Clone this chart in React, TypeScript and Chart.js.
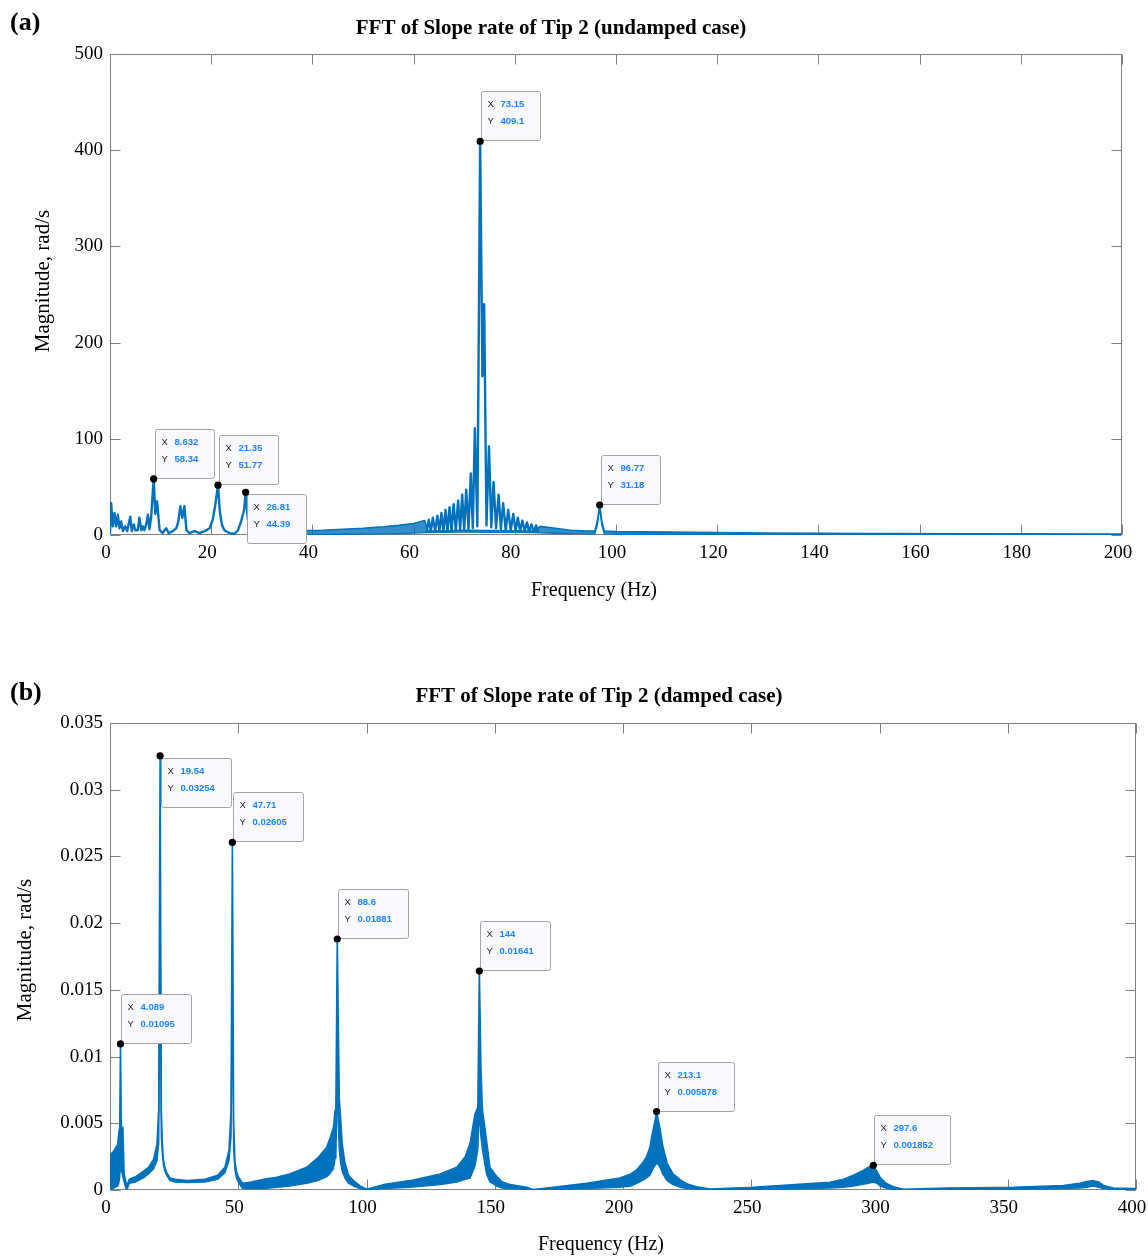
import React, { useEffect, useRef } from "react";
import { Chart, registerables } from "chart.js";

Chart.register(...registerables);

const BLUE = "#0072BD";
const FRAME = "#7f7f7f";
const SERIF = '"Liberation Serif", "Times New Roman", Times, serif';
const SANS = '"Liberation Sans", Arial, Helvetica, sans-serif';

// ---------------- Panel (a): undamped ----------------
const aXTicks = [0, 20, 40, 60, 80, 100, 120, 140, 160, 180, 200];
const aYTicks = [0, 100, 200, 300, 400, 500];

// 0 - 29 Hz, single line
const aLowFreq = [0, 0.23, 0.56, 0.89, 1.22, 1.55, 1.88, 2.21, 2.54, 3.0, 3.4, 4.0, 4.3, 4.7, 5.0, 5.5, 5.8, 6.2, 6.5, 6.8, 7.15, 7.5, 7.8, 8.14, 8.632, 8.95, 9.3, 9.8, 10.4, 11.1, 11.6, 12.4, 13.1, 13.5, 13.9, 14.3, 14.7, 15.1, 15.7, 16.7, 17.7, 18.7, 19.7, 20.3, 20.8, 21.35, 21.7, 22.1, 22.6, 23.6, 24.6, 25.3, 25.9, 26.5, 26.81, 27.2, 27.8, 29.2];
const aLowMag = [2, 33, 9, 23, 9, 21, 7, 14, 4, 9, 4, 19, 4, 11, 5, 5, 18, 5, 9, 5, 11, 21, 6, 19, 58.34, 22, 35, 5, 2, 7, 2, 4, 7, 14, 30, 18, 30, 5, 2, 4, 2, 4, 7, 16, 31, 51.77, 25, 11, 5, 2, 1, 5, 14, 26, 44.39, 18, 4, 1];

// main resonance, ripple spikes
const aPeakFreq = [62.6, 63.0, 63.4, 63.8, 64.25, 64.7, 65.1, 65.5, 65.9, 66.3, 66.7, 67.1, 67.5, 67.9, 68.35, 68.8, 69.2, 69.6, 70.0, 70.4, 70.85, 71.3, 71.7, 72.1, 72.6, 73.15, 73.6, 73.95, 74.4, 74.9, 75.35, 75.8, 76.3, 76.8, 77.25, 77.7, 78.2, 78.7, 79.2, 79.7, 80.15, 80.6, 81.05, 81.5, 81.95, 82.4, 82.85, 83.3, 83.75, 84.2, 84.6];
const aPeakMag = [4, 16, 4, 18, 4, 20, 4, 23, 4, 26, 4, 29, 4, 32, 5, 36, 5, 42, 5, 47, 6, 64, 7, 111, 9, 409.1, 165, 240, 10, 92, 8, 55, 7, 42, 6, 33, 5, 26, 5, 22, 4, 18, 4, 15, 4, 13, 3.5, 11, 3.5, 10, 3];

// dense ripple band (envelopes)
const aBandFreq = [29.2, 33, 38, 42, 46, 50, 54, 57, 60, 62.2, 62.8, 70, 84, 85, 88, 91, 94, 95.8, 96.3, 96.77, 97.2, 97.7, 100, 110, 120, 130, 150, 170, 200];
const aBandUpper = [1.5, 3.5, 4.5, 5, 6, 7, 8.5, 10, 12, 15, 4, 5, 4, 9, 7, 5, 4, 4, 14, 31.18, 14, 4, 3.5, 3, 2.5, 2, 1.5, 1.2, 1];
const aBandLower = [0.5, 0.5, 0.6, 0.7, 0.8, 1, 1.2, 1.5, 2, 2.5, 2.5, 3, 2.5, 2.2, 1.8, 1.5, 1.2, 1.2, 10, 28, 10, 1.2, 1, 0.8, 0.6, 0.5, 0.4, 0.3, 0.3];

const aTipX = [8.632, 21.35, 26.81, 73.15, 96.77];
const aTipY = [58.34, 51.77, 44.39, 409.1, 31.18];
const aTipBelow = [false, false, true, false, false];

// ---------------- Panel (b): damped ----------------
const bXTicks = [0, 50, 100, 150, 200, 250, 300, 350, 400];
const bYTicks = [0, 0.005, 0.01, 0.015, 0.02, 0.025, 0.03, 0.035];

const bBandFreq = [
  0, 0.3, 1, 2, 3, 3.5, 3.8, 4.089, 4.4, 5,
  5.5, 6.2, 6.8, 7.5, 10, 13, 15, 17, 18.3, 19,
  19.54, 20, 20.4, 20.8, 21.4, 22.1, 23.4, 25.3, 30, 37,
  42, 44.8, 46.4, 47.2, 47.71, 48.2, 48.7, 49.3, 50, 51.3,
  52, 55, 60, 65, 70, 76.7, 81, 84.5, 86, 87.1,
  87.8, 88.1, 88.6, 89, 89.4, 89.8, 90.5, 91.6, 93, 94.9,
  97.5, 100.1, 103, 106.6, 117, 128.7, 135.2, 138.5, 140.4, 142.3,
  143.4, 144, 144.6, 145.2, 146.8, 148.1, 150.8, 153, 156, 162.4,
  165, 172.8, 185.8, 198.8, 203, 205.3, 207.5, 209.2, 210.5, 211.2,
  212.3, 213.1, 213.8, 214.4, 215.5, 217.2, 219.5, 222.4, 225, 228.7,
  233.9, 250.8, 261.2, 280.7, 286, 289.8, 293, 295.6, 297.6, 299,
  300.2, 302.5, 305.4, 309.3, 326.2, 352.2, 371.7, 378, 380.8, 383.4,
  385.5, 387.3, 391.2, 400,
];
const bBandUpper = [
  0.0005, 0.0027, 0.0028, 0.0031, 0.0034, 0.0044, 0.0047, 0.01095, 0.0047, 0.0047,
  0.0012, 0.0006, 0.0004, 0.0008, 0.001, 0.0014, 0.0017, 0.0023, 0.0034, 0.006,
  0.03254, 0.006, 0.0035, 0.0023, 0.0017, 0.0013, 0.0009, 0.0008, 0.0007, 0.0008,
  0.0011, 0.0017, 0.003, 0.006, 0.02605, 0.005, 0.0022, 0.0014, 0.001, 0.0006,
  0.0005, 0.0006, 0.0008, 0.00096, 0.0012, 0.0017, 0.0024, 0.0032, 0.004, 0.0047,
  0.006, 0.007, 0.01881, 0.0125, 0.0068, 0.0057, 0.0035, 0.002, 0.0011, 0.0007,
  0.0003, 0.00005, 0.0002, 0.0004, 0.0007, 0.0012, 0.0017, 0.0025, 0.0035, 0.0057,
  0.0062, 0.01641, 0.0092, 0.006, 0.0037, 0.0017, 0.001, 0.0006, 0.0004, 0.0002,
  0.00003, 0.0002, 0.0005, 0.0009, 0.0012, 0.0015, 0.002, 0.0025, 0.0032, 0.004,
  0.005, 0.005878, 0.0052, 0.0046, 0.0033, 0.002, 0.0012, 0.00075, 0.00045, 0.00025,
  0.00008, 0.0002, 0.00034, 0.00058, 0.0008, 0.0011, 0.0014, 0.0017, 0.001852, 0.0014,
  0.00096, 0.0005, 0.00024, 0.00006, 0.00014, 0.0002, 0.00034, 0.0005, 0.00064, 0.0007,
  0.0006, 0.00034, 0.00014, 0.0001,
];
const bBandLower = [
  0, 0, 0.0001, 0.0002, 0.0003, 0.0006, 0.001, 0.002, 0.0015, 0.001,
  0.0006, 0.0001, 0.0001, 0.0005, 0.0006, 0.0009, 0.0012, 0.0016, 0.0022, 0.0035,
  0.02, 0.004, 0.0028, 0.0019, 0.0014, 0.0011, 0.0007, 0.0006, 0.00055, 0.0006,
  0.0008, 0.0013, 0.0022, 0.004, 0.015, 0.003, 0.0015, 0.0009, 0.0006, 0.0002,
  0.0001, 0.0001, 0.0001, 0.0002, 0.0003, 0.0005, 0.0007, 0.001, 0.0013, 0.0016,
  0.0024, 0.003, 0.008, 0.005, 0.003, 0.0022, 0.0014, 0.0009, 0.0005, 0.0003,
  0.0001, 0, 0.00003, 0.0001, 0.0002, 0.0004, 0.0006, 0.0008, 0.0009, 0.0018,
  0.003, 0.006, 0.004, 0.003, 0.0012, 0.0006, 0.0003, 0.00015, 0.0001, 0.00003,
  0, 0.00003, 0.0001, 0.0002, 0.0003, 0.0005, 0.0007, 0.0009, 0.0011, 0.0014,
  0.0018, 0.002, 0.0019, 0.0017, 0.0012, 0.0007, 0.0004, 0.0002, 0.0001, 0.00005,
  0, 0.00003, 0.00006, 0.00015, 0.0002, 0.0003, 0.0004, 0.0005, 0.0006, 0.0005,
  0.0003, 0.00015, 0.00005, 0, 0.00002, 0.00004, 0.0001, 0.00015, 0.0002, 0.0003,
  0.0002, 0.0001, 0.00003, 0.00002,
];

const bTipX = [4.089, 19.54, 47.71, 88.6, 144, 213.1, 297.6];
const bTipY = [0.01095, 0.03254, 0.02605, 0.01881, 0.01641, 0.005878, 0.001852];
const bTipBelow = [false, true, false, false, false, false, false];

// ---------------- helpers ----------------
const pts = (xs: number[], ys: number[]) => xs.map((x, i) => ({ x, y: ys[i] }));

type PanelCfg = {
  width: number;
  height: number;
  padTop: number;
  padRight: number;
  yAxisWidth: number;
  xAxisHeight: number;
  xMax: number;
  yMax: number;
  xTicks: number[];
  yTicks: number[];
  datasets: any[];
  title: string;
  titleX: number;
  titleY: number;
  label: string;
  labelBaseline: number;
  xTitleX: number;
  xTitleY: number;
  yTitleX: number;
  yTitleY: number;
  tipX: number[];
  tipY: number[];
  tipBelow: boolean[];
  fmtY: (v: number) => string;
};

function drawFrame(chart: any, p: PanelCfg) {
  const { ctx, chartArea, scales } = chart;
  const L = Math.round(chartArea.left) + 0.5;
  const R = Math.round(chartArea.right) - 0.5;
  const T = Math.round(chartArea.top) + 0.5;
  const B = Math.round(chartArea.bottom) - 0.5;
  const len = 10;
  ctx.save();
  ctx.strokeStyle = FRAME;
  ctx.lineWidth = 1;
  ctx.beginPath();
  ctx.rect(L, T, R - L, B - T);
  p.xTicks.forEach((v) => {
    const x = Math.round(scales.x.getPixelForValue(v)) + 0.5;
    ctx.moveTo(x, B);
    ctx.lineTo(x, B - len);
    ctx.moveTo(x, T);
    ctx.lineTo(x, T + len);
  });
  p.yTicks.forEach((v) => {
    const y = Math.round(scales.y.getPixelForValue(v)) + 0.5;
    ctx.moveTo(L, y);
    ctx.lineTo(L + len, y);
    ctx.moveTo(R, y);
    ctx.lineTo(R - len, y);
  });
  ctx.stroke();
  ctx.restore();
}

function drawTips(chart: any, p: PanelCfg) {
  const { ctx, scales } = chart;
  ctx.save();
  p.tipX.forEach((xv, i) => {
    const yv = p.tipY[i];
    const px = scales.x.getPixelForValue(xv);
    const py = scales.y.getPixelForValue(yv);
    const xs = String(xv);
    const ys = String(yv);
    ctx.font = `bold 9.5px ${SANS}`;
    const tw = Math.max(ctx.measureText(xs).width, ctx.measureText(ys).width);
    const w = Math.round(19 + tw * 1.08 + 14);
    const h = 49;
    const left = Math.round(px) + 1.5;
    const top = p.tipBelow[i] ? Math.round(py) + 2.5 : Math.round(py) - h - 0.5;
    const r = 2;
    ctx.beginPath();
    ctx.moveTo(left + r, top);
    ctx.lineTo(left + w - r, top);
    ctx.arcTo(left + w, top, left + w, top + r, r);
    ctx.lineTo(left + w, top + h - r);
    ctx.arcTo(left + w, top + h, left + w - r, top + h, r);
    ctx.lineTo(left + r, top + h);
    ctx.arcTo(left, top + h, left, top + h - r, r);
    ctx.lineTo(left, top + r);
    ctx.arcTo(left, top, left + r, top, r);
    ctx.closePath();
    ctx.fillStyle = "#f8f8fd";
    ctx.fill();
    ctx.strokeStyle = "#a3a3a3";
    ctx.lineWidth = 1;
    ctx.stroke();
    ctx.textBaseline = "middle";
    ctx.textAlign = "left";
    ctx.font = `9.5px ${SANS}`;
    ctx.fillStyle = "#262626";
    ctx.fillText("X", left + 6, top + 12.5);
    ctx.fillText("Y", left + 6, top + 30);
    ctx.font = `bold 9.5px ${SANS}`;
    ctx.fillStyle = "#1a85ff";
    ctx.fillText(xs, left + 19, top + 12.5);
    ctx.fillText(ys, left + 19, top + 30);
  });
  ctx.restore();
}

function drawTexts(chart: any, p: PanelCfg) {
  const { ctx } = chart;
  ctx.save();
  ctx.fillStyle = "#000";
  ctx.textAlign = "left";
  ctx.textBaseline = "alphabetic";
  ctx.font = `bold 26px ${SERIF}`;
  ctx.fillText(p.label, 10, p.labelBaseline);

  ctx.textAlign = "center";
  ctx.textBaseline = "middle";
  ctx.font = `bold 21px ${SERIF}`;
  ctx.fillText(p.title, p.titleX, p.titleY);

  ctx.font = `20px ${SERIF}`;
  ctx.fillText("Frequency (Hz)", p.xTitleX, p.xTitleY);

  ctx.translate(p.yTitleX, p.yTitleY);
  ctx.rotate(-Math.PI / 2);
  ctx.font = `21px ${SERIF}`;
  ctx.fillText("Magnitude, rad/s", 0, 0);
  ctx.restore();
}

function buildConfig(p: PanelCfg): any {
  const decor = {
    id: "decor",
    beforeDatasetsDraw(chart: any) {
      drawFrame(chart, p);
    },
    afterDatasetDraw(chart: any, args: any) {
      if (args.index === 1) drawTips(chart, p);
    },
    afterDraw(chart: any) {
      drawTexts(chart, p);
    },
  };
  return {
    type: "line",
    data: { datasets: p.datasets },
    plugins: [decor],
    options: {
      animation: false,
      responsive: false,
      maintainAspectRatio: false,
      events: [],
      layout: { padding: { top: p.padTop, right: p.padRight, left: 0, bottom: 0 } },
      plugins: {
        legend: { display: false },
        tooltip: { enabled: false },
        title: { display: false },
      },
      elements: { line: { tension: 0 } },
      scales: {
        x: {
          type: "linear",
          min: 0,
          max: p.xMax,
          grid: { display: false, drawTicks: false },
          border: { display: false },
          ticks: {
            font: { family: SERIF, size: 19 },
            color: "#000",
            padding: 7,
            labelOffset: -4,
            maxRotation: 0,
            autoSkip: false,
            callback: (v: number) => String(v),
          },
          afterBuildTicks: (s: any) => {
            s.ticks = p.xTicks.map((v) => ({ value: v }));
          },
          afterFit: (s: any) => {
            s.height = p.xAxisHeight;
            s.paddingLeft = 0;
            s.paddingRight = 0;
          },
        },
        y: {
          type: "linear",
          min: 0,
          max: p.yMax,
          grid: { display: false, drawTicks: false },
          border: { display: false },
          ticks: {
            font: { family: SERIF, size: 19 },
            color: "#000",
            padding: 7,
            autoSkip: false,
            callback: (v: number) => p.fmtY(v),
          },
          afterBuildTicks: (s: any) => {
            s.ticks = p.yTicks.map((v) => ({ value: v }));
          },
          afterFit: (s: any) => {
            s.width = p.yAxisWidth;
            s.paddingTop = 0;
            s.paddingBottom = 0;
          },
        },
      },
    },
  };
}

const markerDataset = (xs: number[], ys: number[]) => ({
  data: pts(xs, ys),
  showLine: false,
  pointRadius: 3.6,
  pointBackgroundColor: "#000",
  pointBorderColor: "#000",
  pointBorderWidth: 0,
  fill: false,
});

const lineDataset = (xs: number[], ys: number[], width: number) => ({
  data: pts(xs, ys),
  borderColor: BLUE,
  borderWidth: width,
  pointRadius: 0,
  fill: false,
  borderJoinStyle: "round",
  borderCapStyle: "round",
});

const panelA: PanelCfg = {
  width: 1148,
  height: 620,
  padTop: 54,
  padRight: 26,
  yAxisWidth: 110,
  xAxisHeight: 85,
  xMax: 200,
  yMax: 500,
  xTicks: aXTicks,
  yTicks: aYTicks,
  datasets: [
    markerDataset(aTipX, aTipY),
    lineDataset(aPeakFreq, aPeakMag, 2.4),
    lineDataset(aLowFreq, aLowMag, 2.4),
    lineDataset(aBandFreq, aBandUpper, 1.6),
    {
      ...lineDataset(aBandFreq, aBandLower, 1.3),
      fill: "-1",
      backgroundColor: "rgba(0,114,189,0.8)",
    },
  ],
  title: "FFT of Slope rate of Tip 2 (undamped case)",
  titleX: 551,
  titleY: 29,
  label: "(a)",
  labelBaseline: 30,
  xTitleX: 594,
  xTitleY: 591,
  yTitleX: 43,
  yTitleY: 281,
  tipX: aTipX,
  tipY: aTipY,
  tipBelow: aTipBelow,
  fmtY: (v) => String(v),
};

const panelB: PanelCfg = {
  width: 1148,
  height: 617,
  padTop: 83,
  padRight: 12,
  yAxisWidth: 110,
  xAxisHeight: 67,
  xMax: 400,
  yMax: 0.035,
  xTicks: bXTicks,
  yTicks: bYTicks,
  datasets: [
    markerDataset(bTipX, bTipY),
    lineDataset(bBandFreq, bBandUpper, 1.6),
    {
      ...lineDataset(bBandFreq, bBandLower, 1.4),
      fill: "-1",
      backgroundColor: BLUE,
    },
  ],
  title: "FFT of Slope rate of Tip 2 (damped case)",
  titleX: 599,
  titleY: 57,
  label: "(b)",
  labelBaseline: 60,
  xTitleX: 601,
  xTitleY: 605,
  yTitleX: 25,
  yTitleY: 310,
  tipX: bTipX,
  tipY: bTipY,
  tipBelow: bTipBelow,
  fmtY: (v) => String(Number(v.toFixed(4))),
};

function PanelChart({ cfg, top }: { cfg: PanelCfg; top: number }) {
  const ref = useRef<HTMLCanvasElement>(null);
  useEffect(() => {
    if (!ref.current) return;
    const chart = new Chart(ref.current, buildConfig(cfg));
    return () => chart.destroy();
  }, [cfg]);
  return (
    <canvas
      ref={ref}
      width={cfg.width}
      height={cfg.height}
      style={{
        position: "absolute",
        left: 0,
        top,
        width: cfg.width,
        height: cfg.height,
        display: "block",
      }}
    />
  );
}

export default function App() {
  return (
    <div
      style={{
        position: "absolute",
        left: 0,
        top: 0,
        width: 1148,
        height: 1257,
        background: "#fff",
        overflow: "hidden",
      }}
    >
      <PanelChart cfg={panelA} top={0} />
      <PanelChart cfg={panelB} top={640} />
    </div>
  );
}
